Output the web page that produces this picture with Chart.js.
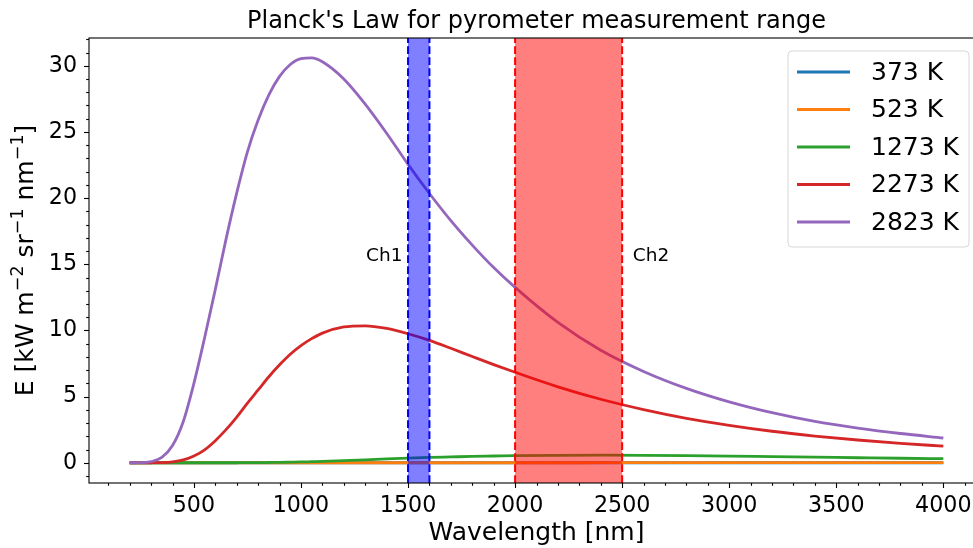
<!DOCTYPE html>
<html><head><meta charset="utf-8">
<script src="https://cdn.jsdelivr.net/npm/chart.js@4"></script>
<style>
html,body{margin:0;padding:0;overflow:hidden;background:#fff;width:973px;height:548px}
#wrap{position:relative;width:1000px;height:548px}
</style>
</head><body><div id="wrap"><canvas id="c" width="1000" height="548" style="width:1000px;height:548px"></canvas></div>
<script>
// ---- data ----
const wavelengths = [200,250,300,350,400,450,500,550,600,650,700,750,800,850,900,950,1000,1050,1100,1200,1300,1400,1500,1600,1700,1800,1900,2000,2200,2400,2600,2800,3000,3200,3400,3600,3800,4000];
const e373K  = [0,0,0,0,0,0,0,0,0,0,0,0,0,0,0,0,0,0,0,0,0,0,0,0,0,0.0001,0.0001,0.0001,0.0002,0.0003,0.0004,0.0005,0.0006,0.0007,0.0008,0.0009,0.001,0.0011];
const e523K  = [0,0,0,0,0,0,0,0,0,0,0,0,0,0,0,0,0,0,0,0.0001,0.0001,0.0002,0.0003,0.0004,0.0006,0.0008,0.001,0.0012,0.0018,0.0024,0.003,0.0036,0.0042,0.0047,0.0052,0.0057,0.006,0.0063];
const e1273K = [0,0,0,0,0,0,0,0,0,0.001,0.002,0.005,0.011,0.02,0.03,0.045,0.06,0.08,0.1,0.16,0.22,0.29,0.35,0.4,0.44,0.48,0.51,0.54,0.565,0.57,0.56,0.535,0.5,0.46,0.42,0.38,0.34,0.31];
const e2273K = [0,0,0.002,0.015,0.07,0.21,0.51,0.98,1.67,2.5,3.45,4.5,5.5,6.5,7.4,8.2,8.85,9.38,9.8,10.26,10.35,10.15,9.75,9.25,8.65,8.03,7.42,6.84,5.74,4.8,4.02,3.36,2.83,2.38,2.02,1.72,1.47,1.25];
const e2823K = [0,0.005,0.09,0.4,1.3,3.1,6.0,9.45,13.1,16.9,20.4,23.5,25.9,27.8,29.2,30.1,30.55,30.6,30.3,29.0,27.1,24.9,22.55,20.35,18.3,16.45,14.75,13.25,10.6,8.5,6.9,5.62,4.6,3.78,3.12,2.62,2.21,1.87];
const seriesLabels = ['373 K','523 K','1273 K','2273 K','2823 K'];
const seriesValues = [e373K, e523K, e1273K, e2273K, e2823K];
const seriesColors = ['#1f77b4','#ff7f0e','#2ca02c','#d62728','#9467bd'];
const xTicks = [500,1000,1500,2000,2500,3000,3500,4000];
const yTicks = [0,5,10,15,20,25,30];
const bandStart = [1500, 2000];
const bandEnd   = [1600, 2500];
const bandFill  = ['rgba(0,0,255,0.5)','rgba(255,0,0,0.5)'];
const bandLine  = ['#0000ff','#ff0000'];
const channelLabels = ['Ch1','Ch2'];
const channelX = [1304, 2550];
const channelY = 15.25;

const FONT = "'DejaVu Sans', sans-serif";

const datasets = seriesLabels.map((lab, i) => ({
  label: lab,
  data: wavelengths.map((w, j) => ({x: w, y: seriesValues[i][j]})),
  borderColor: seriesColors[i],
  backgroundColor: seriesColors[i],
  borderWidth: 2.8,
  pointRadius: 0,
  fill: false,
  cubicInterpolationMode: 'monotone',
  order: seriesLabels.length - i
}));

const decor = {
  id: 'decor',
  afterDatasetsDraw(chart) {
    const ctx = chart.ctx, a = chart.chartArea, xs = chart.scales.x, ys = chart.scales.y;
    ctx.save();
    // bands
    for (let i = 0; i < bandStart.length; i++) {
      const x0 = xs.getPixelForValue(bandStart[i]), x1 = xs.getPixelForValue(bandEnd[i]);
      ctx.fillStyle = bandFill[i];
      ctx.fillRect(x0, a.top, x1 - x0, a.bottom - a.top);
      ctx.strokeStyle = bandLine[i];
      ctx.lineWidth = 2;
      ctx.setLineDash([7.7, 3.3]);
      [x0, x1].forEach(x => { ctx.beginPath(); ctx.moveTo(x, a.bottom); ctx.lineTo(x, a.top); ctx.stroke(); });
    }
    ctx.setLineDash([]);
    // channel labels
    ctx.fillStyle = '#000';
    ctx.font = '18.5px ' + FONT;
    ctx.textAlign = 'left'; ctx.textBaseline = 'alphabetic';
    for (let i = 0; i < channelLabels.length; i++) {
      ctx.fillText(channelLabels[i], xs.getPixelForValue(channelX[i]), ys.getPixelForValue(channelY));
    }
    // spines
    ctx.strokeStyle = '#000'; ctx.lineWidth = 1.1;
    ctx.strokeRect(a.left, a.top, a.right - a.left, a.bottom - a.top);
    // ticks
    for (let v = 100; v <= 4100; v += 100) {
      const x = Math.round(xs.getPixelForValue(v)) + 0.5;
      const len = xTicks.includes(v) ? 5 : 2.8;
      ctx.beginPath(); ctx.moveTo(x, a.bottom); ctx.lineTo(x, a.bottom + len); ctx.stroke();
    }
    for (let v = -1; v <= 32; v += 1) {
      const y = Math.round(ys.getPixelForValue(v)) + 0.5;
      const len = yTicks.includes(v) ? 5 : 2.8;
      ctx.beginPath(); ctx.moveTo(a.left, y); ctx.lineTo(a.left - len, y); ctx.stroke();
    }
    // legend
    const lx = 788, ly = 51, lw = 181, lh = 196, r = 4;
    ctx.beginPath();
    ctx.moveTo(lx + r, ly); ctx.lineTo(lx + lw - r, ly); ctx.quadraticCurveTo(lx + lw, ly, lx + lw, ly + r);
    ctx.lineTo(lx + lw, ly + lh - r); ctx.quadraticCurveTo(lx + lw, ly + lh, lx + lw - r, ly + lh);
    ctx.lineTo(lx + r, ly + lh); ctx.quadraticCurveTo(lx, ly + lh, lx, ly + lh - r);
    ctx.lineTo(lx, ly + r); ctx.quadraticCurveTo(lx, ly, lx + r, ly); ctx.closePath();
    ctx.fillStyle = 'rgba(255,255,255,0.8)'; ctx.fill();
    ctx.strokeStyle = '#d6d6d6'; ctx.lineWidth = 1; ctx.stroke();
    ctx.font = '25px ' + FONT; ctx.textBaseline = 'middle'; ctx.textAlign = 'left';
    chart.data.datasets.forEach((ds, i) => {
      const yy = 72 + i * 37.5;
      ctx.strokeStyle = ds.borderColor; ctx.lineWidth = 2.8;
      ctx.beginPath(); ctx.moveTo(797, yy); ctx.lineTo(850, yy); ctx.stroke();
      ctx.fillStyle = '#000'; ctx.fillText(ds.label, 871, yy + 1);
    });
    // title
    ctx.fillStyle = '#000';
    ctx.font = '24px ' + FONT; ctx.textAlign = 'center'; ctx.textBaseline = 'alphabetic';
    ctx.fillText("Planck's Law for pyrometer measurement range", (a.left + a.right) / 2, 28);
    // x axis title
    ctx.font = '25px ' + FONT;
    ctx.fillText('Wavelength [nm]', (a.left + a.right) / 2, 540);
    // y axis title with superscripts
    const parts = [['E [kW m',0],['\u22122',1],[' sr',0],['\u22121',1],[' nm',0],['\u22121',1],[']',0]];
    ctx.save();
    ctx.translate(33, (a.top + a.bottom) / 2);
    ctx.rotate(-Math.PI / 2);
    ctx.textAlign = 'left';
    let total = 0;
    const widths = parts.map(p => { ctx.font = (p[1] ? '17.5px ' : '25px ') + FONT; const w = ctx.measureText(p[0]).width; total += w; return w; });
    let cx = -total / 2;
    parts.forEach((p, i) => {
      ctx.font = (p[1] ? '17.5px ' : '25px ') + FONT;
      ctx.fillText(p[0], cx, p[1] ? -10 : 0);
      cx += widths[i];
    });
    ctx.restore();
    ctx.restore();
  }
};

new Chart(document.getElementById('c'), {
  type: 'line',
  data: { datasets },
  options: {
    responsive: false,
    animation: false,
    devicePixelRatio: 1,
    layout: { padding: { left: 0, right: 16, top: 38, bottom: 0 } },
    plugins: { legend: { display: false }, title: { display: false }, tooltip: { enabled: false } },
    scales: {
      x: {
        type: 'linear', min: 10, max: 4190,
        grid: { display: false, drawTicks: false }, border: { display: false },
        ticks: { color: '#000', font: { family: FONT, size: 22.2 }, padding: 10, maxRotation: 0, autoSkip: false, callback: v => String(v) },
        afterBuildTicks: s => { s.ticks = xTicks.map(v => ({ value: v })); },
        afterFit: s => { s.height = 65; }
      },
      y: {
        type: 'linear', min: -1.53, max: 32.1,
        grid: { display: false, drawTicks: false }, border: { display: false },
        ticks: { color: '#000', font: { family: FONT, size: 22.2 }, padding: 12, autoSkip: false, callback: v => String(v) },
        afterBuildTicks: s => { s.ticks = yTicks.map(v => ({ value: v })); },
        afterFit: s => { s.width = 89; }
      }
    }
  },
  plugins: [decor]
});
</script>
</body></html>
